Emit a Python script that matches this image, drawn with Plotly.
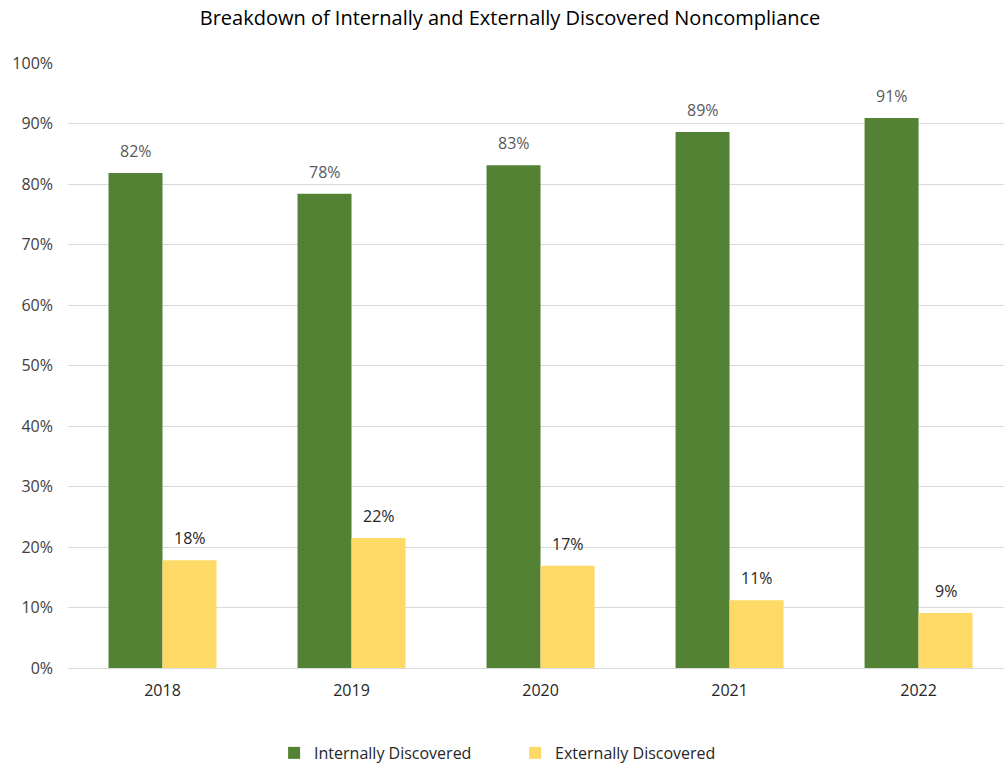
import plotly.graph_objects as go

years = ["2018", "2019", "2020", "2021", "2022"]
internally = [0.818, 0.784, 0.831, 0.886, 0.909]
externally = [0.178, 0.215, 0.169, 0.112, 0.091]
y_ticks = [0, 0.1, 0.2, 0.3, 0.4, 0.5, 0.6, 0.7, 0.8, 0.9, 1.0]
y_tick_text = ["0%", "10%", "20%", "30%", "40%", "50%", "60%", "70%", "80%", "90%", "100%"]

FONT = "Open Sans"
GREEN = "#548235"
YELLOW = "#FFD966"
BAR_HALF_PX = 27  # half a bar's width, to centre labels above each bar of a pair

fig = go.Figure()
fig.add_trace(go.Bar(
    name="Internally Discovered", x=years, y=internally,
    marker=dict(color=GREEN, line=dict(width=0)),
))
fig.add_trace(go.Bar(
    name="Externally Discovered", x=years, y=externally,
    marker=dict(color=YELLOW, line=dict(width=0)),
))

# value labels above the bars (x given as category index)
for i, v in enumerate(internally):
    fig.add_annotation(x=i, y=v, text=f"{v:.0%}", showarrow=False,
                       xshift=-BAR_HALF_PX, yshift=9, yanchor="bottom",
                       font=dict(family=FONT, size=16, color="#595959"))
for i, v in enumerate(externally):
    fig.add_annotation(x=i, y=v, text=f"{v:.0%}", showarrow=False,
                       xshift=BAR_HALF_PX, yshift=9, yanchor="bottom",
                       font=dict(family=FONT, size=16, color="#262626"))

fig.update_layout(
    width=1004, height=766,
    paper_bgcolor="white", plot_bgcolor="white",
    margin=dict(l=68, r=0, t=63, b=98),
    barmode="group", bargap=0.4286, bargroupgap=0,
    title=dict(text="Breakdown of Internally and Externally Discovered Noncompliance",
               x=0.508, xanchor="center", y=0.976, yanchor="middle",
               font=dict(family=FONT, size=20, color="#000000")),
    font=dict(family=FONT, size=16, color="#595959"),
    xaxis=dict(type="category", range=[-0.5, 4.452], showgrid=False, showline=True,
               linecolor="#d9d9d9", linewidth=1, ticks="", ticklabelstandoff=8,
               tickfont=dict(family=FONT, size=16, color="#262626")),
    yaxis=dict(range=[0, 1.0], tickvals=y_ticks, ticktext=y_tick_text,
               showgrid=True, gridcolor="#d9d9d9", gridwidth=1,
               zeroline=False, ticks="", ticklabelstandoff=14,
               tickfont=dict(family=FONT, size=16, color="#404040")),
    legend=dict(orientation="h", x=0.273, xref="container", xanchor="left",
                y=0.017, yref="container", yanchor="middle",
                entrywidth=196, entrywidthmode="pixels",
                font=dict(family=FONT, size=16, color="#262626")),
    showlegend=True,
)

fig.write_html("out.html")
